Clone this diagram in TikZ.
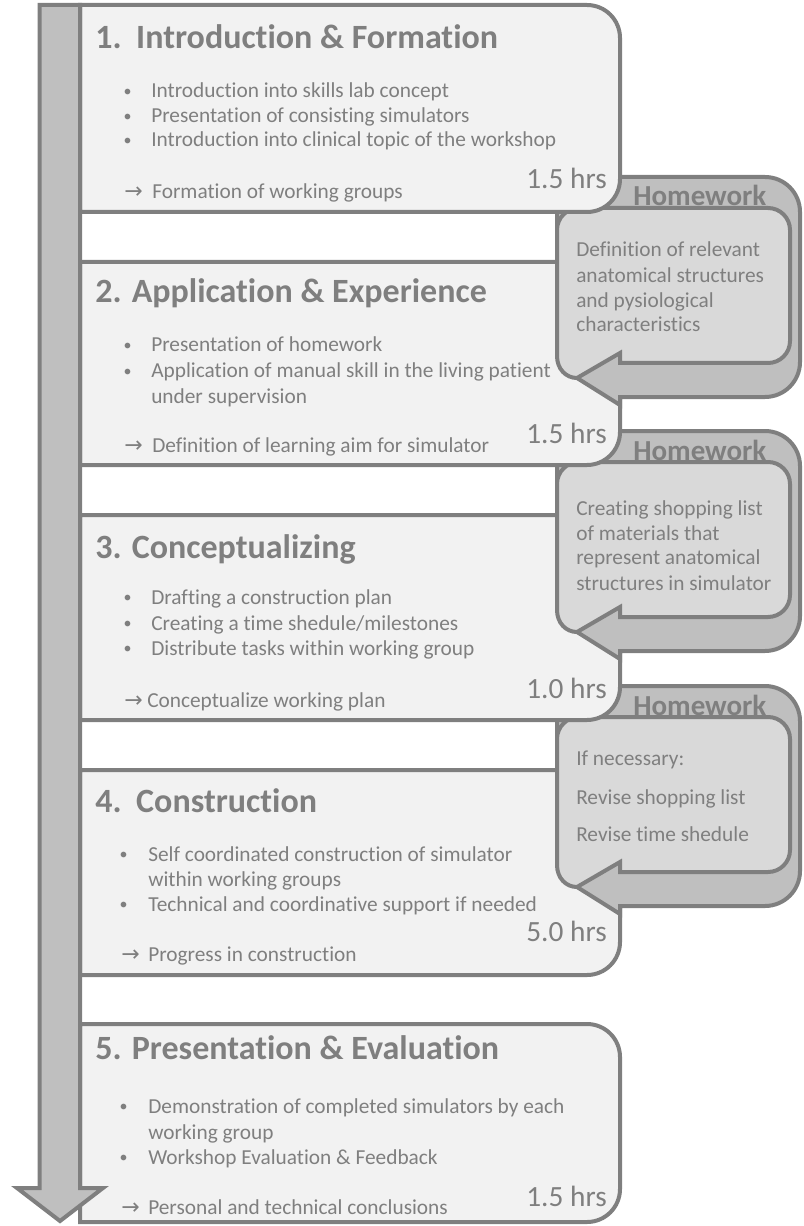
\documentclass[tikz,border=0pt]{standalone}
\usepackage{fontspec}
\setmainfont{Carlito}[Ligatures={NoCommon,NoRequired,NoContextual}]
\newfontfamily\arrowfont{DejaVu Sans}

\definecolor{edge}{HTML}{7F7F7F}
\definecolor{ink}{HTML}{7F7F7F}
\definecolor{stagefill}{HTML}{F2F2F2}
\definecolor{shaftfill}{HTML}{BFBFBF}
\definecolor{notefill}{HTML}{D9D9D9}

\tikzset{
  outline/.style={draw=edge, line width=3pt, line join=miter},
  stagebox/.style={outline, fill=stagefill},
  heading/.style={font=\bfseries\fontsize{25.5pt}{30pt}\selectfont, text=ink, anchor=base west, inner sep=0pt},
  bodytext/.style={font=\fontsize{16pt}{19pt}\selectfont, text=ink, anchor=base west, inner sep=0pt},
  bulletmark/.style={font=\fontsize{12pt}{14pt}\selectfont, text=ink, anchor=base, inner sep=0pt, yshift=1pt},
  leadarrow/.style={font=\arrowfont\fontsize{16.5pt}{19pt}\selectfont, text=ink, anchor=base west, inner sep=0pt},
  hours/.style={font=\fontsize{22pt}{26pt}\selectfont, text=ink, anchor=base east, inner sep=0pt},
  hwlabel/.style={font=\bfseries\fontsize{21.75pt}{26pt}\selectfont, text=ink, anchor=base west, inner sep=0pt},
}

% one stage panel: #1 = top, #2 = bottom (in px, measured downwards)
\newcommand\stagepanel[2]{%
  \draw[stagebox] (80,-#2) -- (80,-#1) -- (587,-#1)
    arc[start angle=90,end angle=0,radius=24.75pt] -- (620,{-(#2)+33})
    arc[start angle=0,end angle=-90,radius=24.75pt] -- cycle;}

% homework loop arrow with its note panel: #1 = vertical offset (px)
\newcommand\homeworknote[1]{%
  \draw[outline, fill=shaftfill] (575,{-177-#1}) -- (765,{-177-#1})
    arc[start angle=90,end angle=0,radius=26.25pt] -- (800,{-362-#1})
    arc[start angle=0,end angle=-90,radius=26.25pt] -- (620,{-397-#1})
    -- (620,{-405-#1}) -- (577,{-378-#1}) -- (557,{-356-#1}) -- (557,{-208-#1}) -- cycle;
  \draw[outline, fill=notefill] (579,{-208-#1}) -- (768,{-208-#1})
    arc[start angle=90,end angle=0,radius=16.5pt] -- (790,{-341-#1})
    arc[start angle=0,end angle=-90,radius=16.5pt] -- (620,{-363-#1})
    -- (620,{-353-#1}) -- (577,{-378-#1})
    .. controls (566,{-378-#1}) and (557,{-369-#1}) .. (557,{-356-#1})
    -- (557,{-230-#1}) arc[start angle=180,end angle=90,radius=16.5pt] -- cycle;}

\begin{document}
\begin{tikzpicture}[x=0.75pt,y=0.75pt]
\useasboundingbox (0,0) rectangle (803,-1226);

% panels, stacked so each one overlaps the homework loop below it
\stagepanel{1024}{1222}
\stagepanel{770}{975}
\homeworknote{509}
\stagepanel{515}{720}
\homeworknote{254}
\stagepanel{262}{465}
\homeworknote{0}
\stagepanel{5}{212}

% time line arrow, its head lying over the last panel
\draw[outline, fill=shaftfill] (39.5,-5) -- (39.5,-1188) -- (17,-1188) -- (60,-1221)
  -- (103,-1188) -- (80,-1188) -- (80,-5) -- cycle;

% stage 1
\node[heading] (s1title) at (95,-49) {1.\hspace{11pt}Introduction \& Formation};
\node[bulletmark] (s1b1) at (127.5,-98) {•};
\node[bodytext] (s1t1) at (151,-98) {Introduction into skills lab concept};
\node[bulletmark] (s1b2) at (127.5,-123) {•};
\node[bodytext] (s1t2) at (151,-123) {Presentation of consisting simulators};
\node[bulletmark] (s1b3) at (127.5,-147) {•};
\node[bodytext] (s1t3) at (151,-147) {Introduction into clinical topic of the workshop};
\node[leadarrow] (s1a) at (124,-199) {→};
\node[bodytext] (s1r) at (152,-199) {Formation of working groups};
\node[hours] (s1h) at (607,-189) {1.5 hrs};

% stage 2
\node[heading] (s2title) at (95,-303) {2. Application \& Experience};
\node[bulletmark] (s2b1) at (127.5,-352) {•};
\node[bodytext] (s2t1) at (151,-352) {Presentation of homework};
\node[bulletmark] (s2b2) at (127.5,-378) {•};
\node[bodytext] (s2t2) at (151,-378) {Application of manual skill in the living patient};
\node[bodytext] (s2t3) at (151,-403) {under supervision};
\node[leadarrow] (s2a) at (124,-452) {→};
\node[bodytext] (s2r) at (152,-452) {Definition of learning aim for simulator};
\node[hours] (s2h) at (607,-443) {1.5 hrs};

% stage 3
\node[heading] (s3title) at (95,-558) {3. Conceptualizing};
\node[bulletmark] (s3b1) at (127.5,-604) {•};
\node[bodytext] (s3t1) at (151,-604) {Drafting a construction plan};
\node[bulletmark] (s3b2) at (127.5,-630) {•};
\node[bodytext] (s3t2) at (151,-630) {Creating a time shedule/milestones};
\node[bulletmark] (s3b3) at (127.5,-655) {•};
\node[bodytext] (s3t3) at (151,-655) {Distribute tasks within working group};
\node[leadarrow] (s3a) at (124,-707) {→};
\node[bodytext] (s3r) at (147,-707) {Conceptualize working plan};
\node[hours] (s3h) at (607,-698) {1.0 hrs};

% stage 4
\node[heading] (s4title) at (95,-812) {4.\hspace{11pt}Construction};
\node[bulletmark] (s4b1) at (123.5,-861) {•};
\node[bodytext] (s4t1) at (148,-861) {Self coordinated construction of simulator};
\node[bodytext] (s4t2) at (148,-886) {within working groups};
\node[bulletmark] (s4b2) at (123.5,-911) {•};
\node[bodytext] (s4t3) at (148,-911) {Technical and coordinative support if needed};
\node[leadarrow] (s4a) at (121,-961) {→};
\node[bodytext] (s4r) at (148,-961) {Progress in construction};
\node[hours] (s4h) at (607,-941) {5.0 hrs};

% stage 5
\node[heading] (s5title) at (95,-1059) {5. Presentation \& Evaluation};
\node[bulletmark] (s5b1) at (123.5,-1113) {•};
\node[bodytext] (s5t1) at (148,-1113) {Demonstration of completed simulators by each};
\node[bodytext] (s5t2) at (148,-1139) {working group};
\node[bulletmark] (s5b2) at (123.5,-1164) {•};
\node[bodytext] (s5t3) at (148,-1164) {Workshop Evaluation \& Feedback};
\node[leadarrow] (s5a) at (121,-1214) {→};
\node[bodytext] (s5r) at (148,-1214) {Personal and technical conclusions};
\node[hours] (s5h) at (607,-1206) {1.5 hrs};

% homework notes
\node[hwlabel] (h1label) at (633,-206) {Homework};
\node[bodytext] (h1l1) at (576,-257) {Definition of relevant};
\node[bodytext] (h1l2) at (576,-283) {anatomical structures};
\node[bodytext] (h1l3) at (576,-308) {and pysiological};
\node[bodytext] (h1l4) at (576,-332) {characteristics};

\node[hwlabel] (h2label) at (633,-460) {Homework};
\node[bodytext] (h2l1) at (576,-515) {Creating shopping list};
\node[bodytext] (h2l2) at (576,-540) {of materials that};
\node[bodytext] (h2l3) at (576,-564) {represent anatomical};
\node[bodytext] (h2l4) at (576,-590) {structures in simulator};

\node[hwlabel] (h3label) at (633,-715) {Homework};
\node[bodytext] (h3l1) at (576,-765) {If necessary:};
\node[bodytext] (h3l2) at (576,-804) {Revise shopping list};
\node[bodytext] (h3l3) at (576,-841) {Revise time shedule};
\end{tikzpicture}
\end{document}
